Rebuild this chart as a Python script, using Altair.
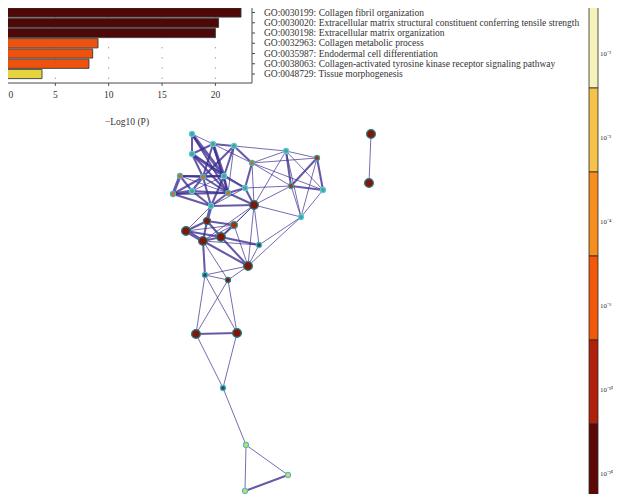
import altair as alt
import pandas as pd

# ---------------- data ----------------
terms = [
    "GO:0030199: Collagen fibril organization",
    "GO:0030020: Extracellular matrix structural constituent conferring tensile strength",
    "GO:0030198: Extracellular matrix organization",
    "GO:0032963: Collagen metabolic process",
    "GO:0035987: Endodermal cell differentiation",
    "GO:0038063: Collagen-activated tyrosine kinase receptor signaling pathway",
    "GO:0048729: Tissue morphogenesis",
]
neg_log_p = [22.4, 20.3, 20.0, 9.0, 8.5, 8.15, 3.75]
x_ticks = [0, 5, 10, 15, 20]
x_title = "\u2212Log10 (P)"

cb_labels = ["10\u207b\u00b2", "10\u207b\u00b3", "10\u207b\u2074", "10\u207b\u2076", "10\u207b\u00b9\u2070", "10\u207b\u00b2\u2070"]

# network layout (node coordinates in layout space)
node_x = [192, 213, 234, 192, 252, 286, 317, 180, 203, 224, 291, 323, 173, 192, 228, 245,
          211, 254, 301, 207, 234, 186, 221, 203, 259, 248, 205, 228, 196, 237, 223, 246,
          288, 245, 371, 369]
node_y = [134, 144, 146, 154, 163, 151, 158, 176, 177, 176, 186, 190, 194, 191, 193, 188,
          206, 205, 217, 221, 225, 231, 237, 241, 245, 266, 275, 280, 334, 333, 388, 445,
          475, 491, 134, 183]
node_group = ["c", "c", "c", "c", "o", "c", "r2", "o", "o", "c", "r2", "c", "o", "c", "o", "c",
              "c", "r", "c", "r", "r2", "r", "r", "r", "d", "r", "d", "r", "r", "r", "d", "y",
              "y", "y", "r", "r"]
node_genes = [2, 2, 2, 2, 2, 2, 2, 2, 2, 2, 2, 2, 2, 2, 2, 2,
              2, 4, 2, 3, 3, 4, 4, 4, 2, 4, 2, 2, 4, 4, 2, 2,
              2, 2, 4, 4]

edge_src = [0, 0, 0, 0, 1, 1, 1, 1, 1, 1, 2, 2, 2, 2, 2, 3, 3, 3, 3,
            4, 4, 4, 4, 4, 4, 5, 5, 5, 5, 5, 6, 6, 6, 10, 10, 10, 11,
            7, 7, 7, 7, 7, 8, 8, 8, 8, 8, 9, 9, 9, 9, 12, 12, 12, 13, 13,
            14, 14, 14, 15, 15, 15, 16, 16, 16, 17, 17, 17, 17, 17, 17,
            18, 18, 19, 19, 19, 19, 20, 20, 20, 21, 21, 22, 22, 22,
            23, 23, 23, 23, 24, 25, 25, 25, 26, 26, 26, 27, 27, 28, 28, 29,
            30, 31, 31, 32, 34]
edge_dst = [9, 14, 3, 1, 3, 2, 9, 8, 14, 4, 9, 8, 4, 14, 5, 9, 8, 14, 15,
            5, 6, 15, 10, 17, 11, 6, 10, 11, 18, 17, 10, 11, 18, 11, 18, 17, 18,
            8, 12, 13, 9, 14, 9, 13, 12, 14, 16, 14, 15, 16, 13, 13, 14, 16, 14, 16,
            15, 16, 17, 17, 16, 10, 17, 19, 21, 18, 24, 25, 20, 23, 22,
            24, 25, 21, 23, 20, 22, 22, 23, 21, 23, 22, 23, 25, 24,
            25, 24, 26, 27, 25, 27, 26, 20, 27, 28, 29, 28, 29, 29, 30, 30,
            31, 32, 33, 33, 35]
edge_w = [3, 2, 2, 1, 2, 2, 3, 2, 2, 1, 2, 2, 2, 1, 1, 3, 2, 2, 1,
          1, 1, 2, 1, 1, 1, 1, 2, 1, 1, 1, 2, 2, 1, 2, 1, 1, 1,
          2, 3, 2, 2, 1, 2, 2, 2, 2, 2, 2, 2, 2, 1, 3, 2, 2, 2, 2,
          2, 2, 2, 2, 1, 1, 2, 3, 1, 1, 1, 1, 1, 1, 1,
          1, 1, 2, 2, 2, 2, 2, 1, 1, 3, 2, 2, 2, 2,
          2, 1, 2, 1, 1, 1, 1, 1, 1, 1, 1, 1, 1, 2, 1, 1,
          1, 1, 1, 2, 1]

# ---------------- styles ----------------
bar_colors = ["#4f0808", "#4f0808", "#4f0808", "#ee520d", "#ee520d", "#ee520d", "#e6d33e"]
cb_colors = ["#f6f2ba", "#f6c24a", "#f78e20", "#f25809", "#b1200a", "#5e0707"]
group_dom = ["c", "o", "r", "r2", "d", "y"]
group_fill = ["#46a590", "#dc6a12", "#7d190b", "#a8300e", "#3a4d4c", "#e0d640"]
group_stroke = ["#5cc9dc", "#3fb7c9", "#2a7d86", "#3a9fab", "#3fb7c9", "#4fc0d6"]
SERIF = "Liberation Serif"
TXT = "#333333"

# scales
XMAX = 23.43
bx = alt.Scale(domain=[0, XMAX], range=[2, 252])
by = alt.Scale(domain=[0, 6], range=[12.5, 74])
FRAME_TOP, FRAME_BOT = -1.6, 6.88
cbx = alt.Scale(domain=[0, 1], range=[589, 598])
cby = alt.Scale(domain=[0, 6], range=[4, 508])
nx = alt.Scale(domain=[0, 621], range=[0, 621])
ny = alt.Scale(domain=[0, 502], range=[0, 502])

# ---------------- bar chart ----------------
bars_df = pd.DataFrame({"term": terms, "val": neg_log_p, "rank": list(range(len(terms)))})
ticks_df = pd.DataFrame({"t": x_ticks})
one = pd.DataFrame({"a": [0]})

frame = alt.Chart(one).mark_rect(fillOpacity=0, stroke="#4a4a4a", strokeWidth=1).encode(
    x=alt.X(datum=0, scale=bx, axis=None), x2=alt.X2(datum=XMAX),
    y=alt.Y(datum=FRAME_TOP, scale=by, axis=None), y2=alt.Y2(datum=FRAME_BOT))

grid = alt.Chart(ticks_df).transform_filter("datum.t > 0").mark_rule(
    color="#8a8a8a", strokeWidth=1, strokeDash=[1.2, 9.0]).encode(
    x=alt.X("t:Q", scale=bx, axis=None),
    y=alt.Y(datum=FRAME_TOP, scale=by, axis=None), y2=alt.Y2(datum=FRAME_BOT))

bars = alt.Chart(bars_df).transform_calculate(
    x0="0", y0="datum.rank - 0.45", y1="datum.rank + 0.45").mark_rect(
    stroke="#3a3a3a", strokeWidth=0.9).encode(
    x=alt.X("x0:Q", scale=bx, axis=None), x2="val:Q",
    y=alt.Y("y0:Q", scale=by, axis=None), y2="y1:Q",
    fill=alt.Fill("term:N", scale=alt.Scale(domain=terms, range=bar_colors), legend=None))

xtick_marks = alt.Chart(ticks_df).mark_rule(color="#4a4a4a", strokeWidth=1).encode(
    x=alt.X("t:Q", scale=bx, axis=None),
    y=alt.Y(datum=FRAME_BOT, scale=by, axis=None), y2=alt.Y2(datum=FRAME_BOT + 0.28))

xtick_labels = alt.Chart(ticks_df).transform_filter("datum.t > 0").mark_text(
    font=SERIF, fontSize=9.5, color=TXT, dy=12).encode(
    x=alt.X("t:Q", scale=bx, axis=None),
    y=alt.Y(datum=FRAME_BOT, scale=by, axis=None), text="t:Q")

# the zero label sits at the page edge: anchor it left so it stays readable
xtick_zero = alt.Chart(ticks_df).transform_filter("datum.t == 0").mark_text(
    font=SERIF, fontSize=9.5, color=TXT, dy=12, align="left", dx=6.5).encode(
    x=alt.X("t:Q", scale=bx, axis=None),
    y=alt.Y(datum=FRAME_BOT, scale=by, axis=None), text="t:Q")

xtitle = alt.Chart(one).mark_text(font=SERIF, fontSize=9.5, color=TXT, dy=39).encode(
    x=alt.X(datum=XMAX / 2, scale=bx, axis=None),
    y=alt.Y(datum=FRAME_BOT, scale=by, axis=None), text=alt.value(x_title))

ytick_marks = alt.Chart(bars_df).transform_calculate(
    xa=str(XMAX), xb=str(XMAX + 0.28)).mark_rule(color="#4a4a4a", strokeWidth=1).encode(
    x=alt.X("xa:Q", scale=bx, axis=None), x2="xb:Q",
    y=alt.Y("rank:Q", scale=by, axis=None))

ytick_labels = alt.Chart(bars_df).mark_text(
    font=SERIF, fontSize=9.5, color=TXT, align="left", baseline="middle", dx=12).encode(
    x=alt.X(datum=XMAX, scale=bx, axis=None),
    y=alt.Y("rank:Q", scale=by, axis=None), text="term:N")

# ---------------- colour bar ----------------
cb_df = pd.DataFrame({"lab": cb_labels, "i": list(range(len(cb_labels)))})
cb_rects = alt.Chart(cb_df).transform_calculate(
    x0="0", x1="1", y0="datum.i", y1="datum.i + 1").mark_rect(
    stroke="#2a2a2a", strokeWidth=0.8).encode(
    x=alt.X("x0:Q", scale=cbx, axis=None), x2="x1:Q",
    y=alt.Y("y0:Q", scale=cby, axis=None), y2="y1:Q",
    fill=alt.Fill("lab:N", scale=alt.Scale(domain=cb_labels, range=cb_colors), legend=None))

cb_text = alt.Chart(cb_df).transform_calculate(ym="datum.i + 0.6").mark_text(
    font=SERIF, fontSize=7, color=TXT, align="left", baseline="middle", dx=2).encode(
    x=alt.X(datum=1, scale=cbx, axis=None),
    y=alt.Y("ym:Q", scale=cby, axis=None), text="lab:N")

# ---------------- network ----------------
nodes_df = pd.DataFrame({"x": node_x, "y": node_y, "g": node_group, "n": node_genes})
edges_df = pd.DataFrame({
    "x1": [node_x[s] for s in edge_src], "y1": [node_y[s] for s in edge_src],
    "x2": [node_x[d] for d in edge_dst], "y2": [node_y[d] for d in edge_dst],
    "w": edge_w})

edges = alt.Chart(edges_df).mark_rule(color="#3b2c8e", opacity=0.78).encode(
    x=alt.X("x1:Q", scale=nx, axis=None), x2="x2:Q",
    y=alt.Y("y1:Q", scale=ny, axis=None), y2="y2:Q",
    strokeWidth=alt.StrokeWidth("w:Q", scale=alt.Scale(domain=[1, 3], range=[0.9, 3.2]), legend=None))

nodes = alt.Chart(nodes_df).mark_circle(opacity=1, strokeWidth=1.2).encode(
    x=alt.X("x:Q", scale=nx, axis=None),
    y=alt.Y("y:Q", scale=ny, axis=None),
    fill=alt.Fill("g:N", scale=alt.Scale(domain=group_dom, range=group_fill), legend=None),
    stroke=alt.Stroke("g:N", scale=alt.Scale(domain=group_dom, range=group_stroke), legend=None),
    size=alt.Size("n:Q", scale=alt.Scale(domain=[2, 4], range=[26, 78]), legend=None))

chart = alt.layer(
    grid, bars, frame, xtick_marks, xtick_labels, xtick_zero, xtitle, ytick_marks, ytick_labels,
    cb_rects, cb_text, edges, nodes
).resolve_scale(
    x="independent", y="independent", fill="independent", stroke="independent",
    size="independent", strokeWidth="independent"
).properties(
    width=621, height=502,
    autosize=alt.AutoSizeParams(type="none"),
    padding={"left": -8, "top": -8, "right": -8, "bottom": -8},
    background="white",
).configure_view(stroke=None)

chart.save("out.html", embed_options={"renderer": "svg", "actions": False})
